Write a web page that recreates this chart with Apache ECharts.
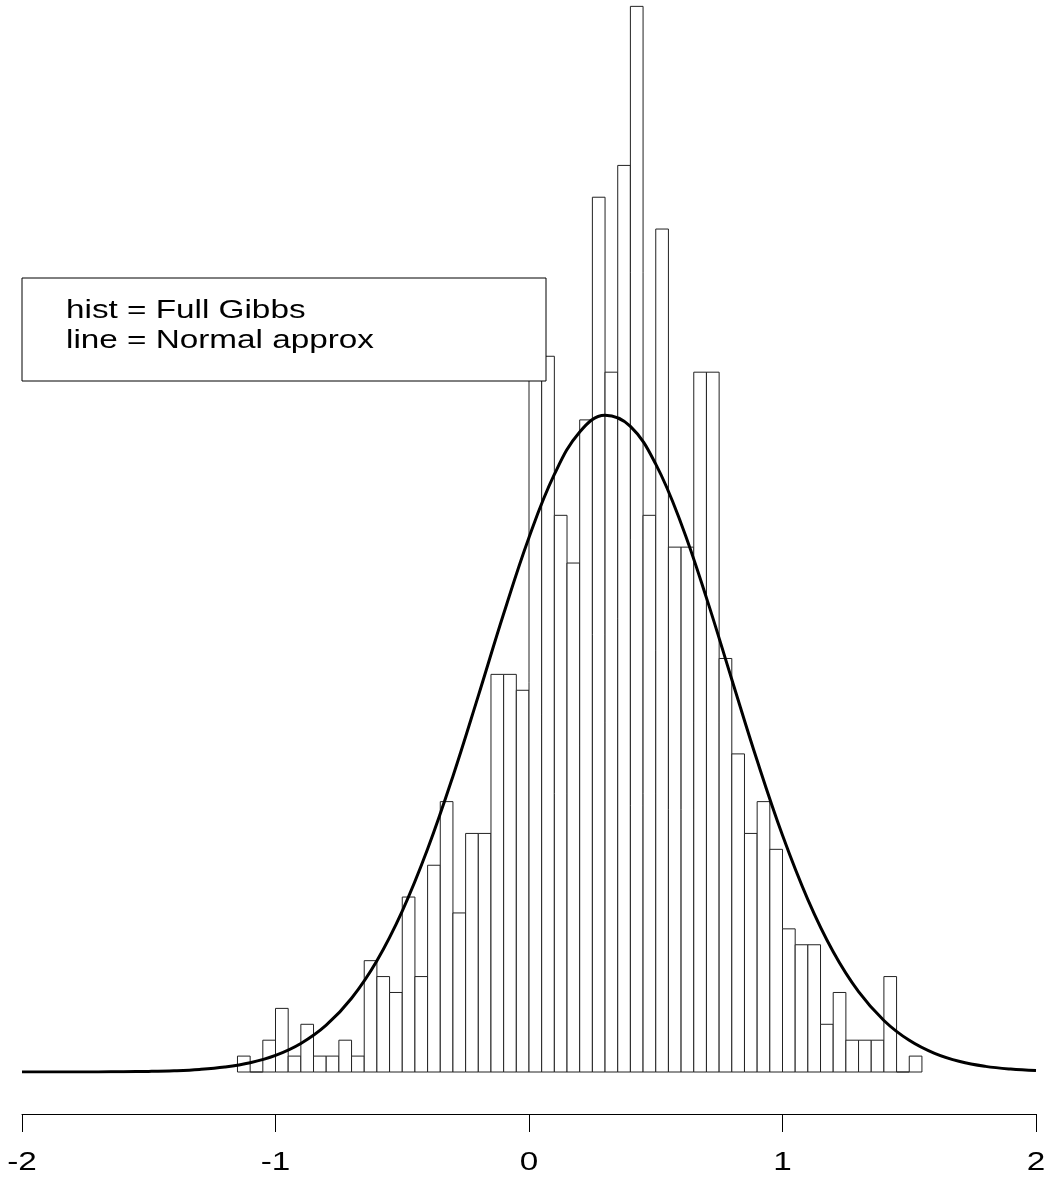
<!DOCTYPE html>
<html>
<head>
<meta charset="utf-8">
<script src="https://cdn.jsdelivr.net/npm/echarts@6/dist/echarts.min.js"></script>
<style>
  html, body { margin: 0; padding: 0; background: #ffffff; }
  #chart { width: 1050px; height: 1182px; }
</style>
</head>
<body>
<div id="chart"></div>
<script>
// Histogram of the Full Gibbs draws: bins of width 0.05, first bin starts at -1.15
const binStart = -1.15;
const binWidth = 0.05;
const binCounts = [
  1, 0, 2, 4, 1, 3, 1, 1, 2, 1,
  7, 6, 5, 11, 6, 13, 17, 10, 15, 15,
  25, 25, 24, 49, 45, 35, 32, 41, 55, 44,
  57, 67, 35, 53, 33, 33, 44, 44, 26, 20,
  15, 17, 14, 9, 8, 8, 3, 5, 2, 2,
  2, 6, 0, 1
];

// Normal approximation, on the same count scale as the histogram
const curveX = [
  -2.0, -1.9, -1.8, -1.7, -1.6, -1.5, -1.4, -1.3, -1.2, -1.1,
  -1.0, -0.9, -0.8, -0.7, -0.6, -0.5, -0.4, -0.3, -0.2, -0.1,
   0.0,  0.1,  0.2,  0.3,  0.4,  0.5,  0.6,  0.7,  0.8,  0.9,
   1.0,  1.1,  1.2,  1.3,  1.4,  1.5,  1.6,  1.7,  1.8,  1.9, 2.0
];
const curveY = [
  0.0004, 0.0012, 0.003, 0.0072, 0.0166, 0.0368, 0.0784, 0.159, 0.311, 0.582,
  1.04, 1.79, 2.94, 4.64, 7.00, 10.12, 14.02, 18.60, 23.65, 28.81,
  33.61, 37.57, 40.24, 41.29, 40.59, 38.22, 34.49, 29.81, 24.68, 19.58,
  14.88, 10.84, 7.56, 5.05, 3.24, 1.99, 1.17, 0.657, 0.354, 0.183, 0.090
];

const xTicks = [-2, -1, 0, 1, 2];
const xTickLabels = ['-2', '-1', '0', '1', '2'];
const legendLines = ['hist = Full Gibbs', 'line = Normal approx'];

const FONT = '"Liberation Sans", Arial, Helvetica, sans-serif';
const TEXT_STRETCH = 1.28;   // the device draws its text wide

const histData = binCounts.map((c, i) => [
  binStart + i * binWidth,
  binStart + (i + 1) * binWidth,
  c
]);
const curveData = curveX.map((x, i) => [x, curveY[i]]);

const chart = echarts.init(document.getElementById('chart'), null, { renderer: 'canvas' });

chart.setOption({
  animation: false,
  backgroundColor: '#ffffff',
  grid: { left: 22, right: 14, top: 0, bottom: 110, containLabel: false },
  xAxis: {
    type: 'value',
    min: xTicks[0],
    max: xTicks[xTicks.length - 1],
    interval: 1,
    offset: 42,
    axisLine: { show: true, onZero: false, lineStyle: { color: '#000', width: 1 } },
    axisTick: { show: true, length: 18, lineStyle: { color: '#000', width: 1 } },
    axisLabel: { show: false },
    splitLine: { show: false }
  },
  yAxis: {
    type: 'value',
    min: 0,
    max: 67.4,
    show: false,
    splitLine: { show: false }
  },
  series: [
    {
      name: 'hist',
      type: 'custom',
      data: histData,
      z: 2,
      renderItem: function (params, api) {
        const x0 = api.value(0), x1 = api.value(1), c = api.value(2);
        const p0 = api.coord([x0, c]);
        const p1 = api.coord([x1, 0]);
        return {
          type: 'rect',
          shape: { x: p0[0], y: p0[1], width: p1[0] - p0[0], height: p1[1] - p0[1] },
          style: { fill: '#ffffff', stroke: '#222222', lineWidth: 1 }
        };
      }
    },
    {
      name: 'normal',
      type: 'line',
      data: curveData,
      smooth: 0.4,
      symbol: 'none',
      z: 3,
      lineStyle: { color: '#000', width: 3 }
    }
  ]
});

// Tick labels placed on the x scale, stretched like the rest of the device text
const axisY = chart.convertToPixel({ yAxisIndex: 0 }, 0) + 42;
const tickLabelEls = xTicks.map((v, i) => ({
  type: 'text',
  z: 50,
  x: chart.convertToPixel({ xAxisIndex: 0 }, v),
  y: axisY + 49,
  scaleX: TEXT_STRETCH,
  style: {
    text: xTickLabels[i], font: '26px ' + FONT, fill: '#000',
    textAlign: 'center', textVerticalAlign: 'middle'
  }
}));

// Legend box: white panel drawn over the bars
const legendEls = [
  {
    type: 'rect', z: 100,
    shape: { x: 22, y: 278, width: 524, height: 103 },
    style: { fill: '#ffffff', stroke: '#000', lineWidth: 1 }
  },
  {
    type: 'text', z: 101, x: 66, y: 311, scaleX: TEXT_STRETCH,
    style: { text: legendLines[0], font: '26px ' + FONT, fill: '#000', textVerticalAlign: 'middle' }
  },
  {
    type: 'text', z: 101, x: 66, y: 341, scaleX: TEXT_STRETCH,
    style: { text: legendLines[1], font: '26px ' + FONT, fill: '#000', textVerticalAlign: 'middle' }
  }
];

chart.setOption({ graphic: tickLabelEls.concat(legendEls) });
</script>
</body>
</html>
